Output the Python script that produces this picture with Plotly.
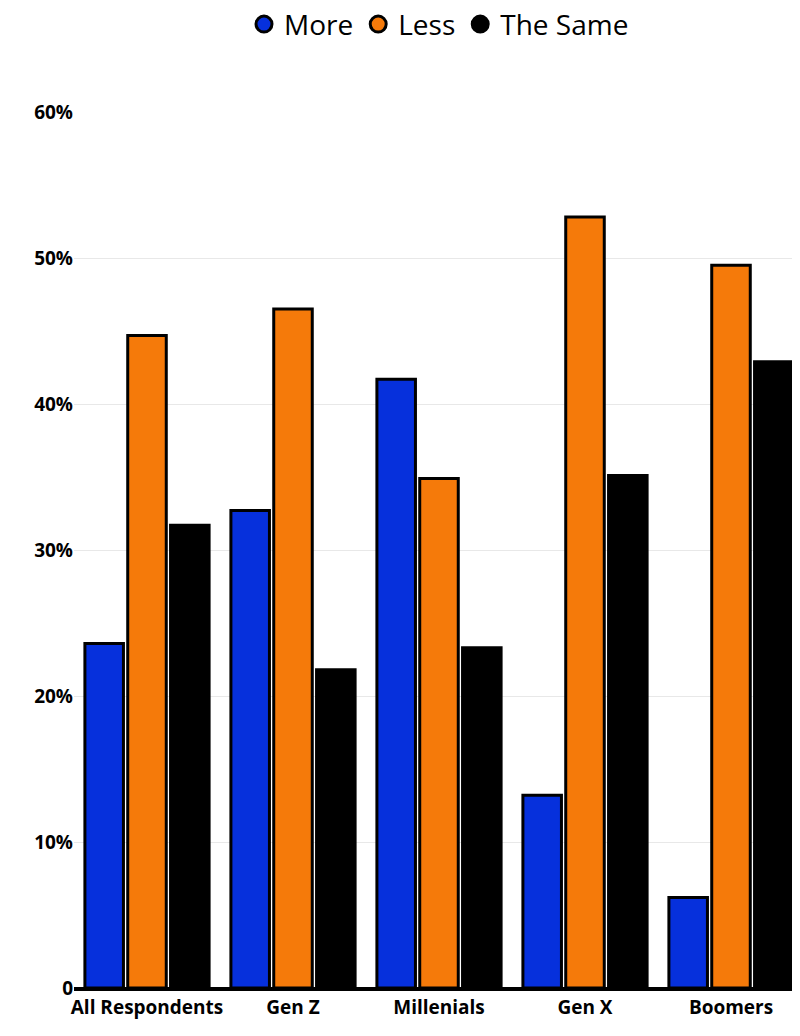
import plotly.graph_objects as go

categories = ["All Respondents", "Gen Z", "Millenials", "Gen X", "Boomers"]
more = [23.6, 32.7, 41.7, 13.2, 6.2]
less = [44.7, 46.5, 34.9, 52.8, 49.5]
same = [31.7, 21.8, 23.3, 35.1, 42.9]
tick_vals = [0, 10, 20, 30, 40, 50, 60]
tick_text = ["0", "10%", "20%", "30%", "40%", "50%", "60%"]

fig = go.Figure()
series = [("More", more, "#0630DC"), ("Less", less, "#F57A0A"), ("The Same", same, "#000000")]
for name, vals, col in series:
    fig.add_bar(x=categories, y=vals, name=name, showlegend=False,
                marker=dict(color=col, line=dict(color="black", width=3)))
for name, vals, col in series:
    fig.add_scatter(x=[None], y=[None], name=name, mode="markers",
                    marker=dict(symbol="circle", size=24, color=col, line=dict(color="black", width=3)))

fig.update_layout(
    width=800, height=1036, barmode="group", bargap=0.12, bargroupgap=0.1,
    plot_bgcolor="white", paper_bgcolor="white",
    margin=dict(l=66, r=4, t=104, b=56, autoexpand=False),
    font=dict(family="Open Sans", color="black"),
    legend=dict(orientation="h", x=0.5, xanchor="center", y=1.1, yanchor="middle",
                font=dict(size=28, family="Open Sans"), itemsizing="trace"),
    yaxis=dict(range=[0, 60], tickvals=tick_vals, ticktext=tick_text, gridcolor="#e8e8e8",
               tickfont=dict(size=19, family="Open Sans", weight=700), zeroline=True, zerolinecolor="black", zerolinewidth=3),
    xaxis=dict(tickfont=dict(size=19, family="Open Sans", weight=700), showline=True, linecolor="black", linewidth=3),
)
fig.write_html("out.html")
